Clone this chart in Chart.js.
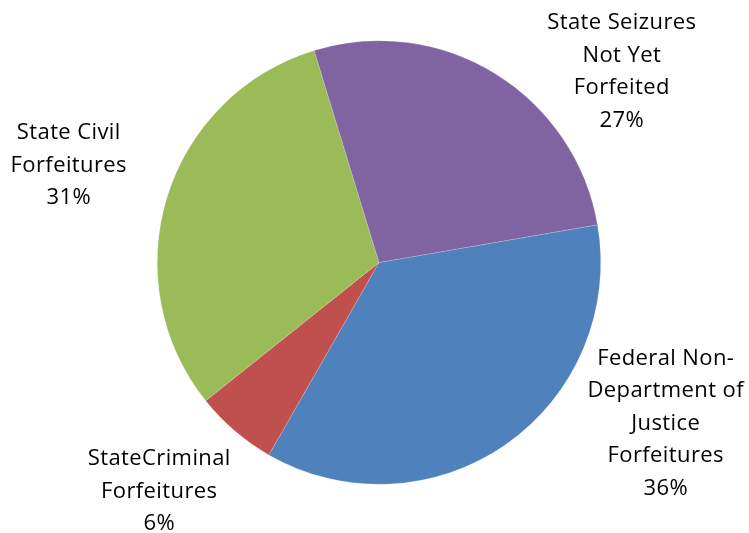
<!DOCTYPE html>
<html>
<head>
<meta charset="utf-8">
<script src="https://cdn.jsdelivr.net/npm/chart.js@4.4.0/dist/chart.umd.min.js"></script>
<style>
  html, body { margin: 0; padding: 0; background: #fff; }
  #wrap { width: 749px; height: 533px; }
</style>
</head>
<body>
<div id="wrap"><canvas id="graficoForfeitures"></canvas></div>
<script>
const categorias = [
  'Federal Non-Department of Justice Forfeitures',
  'StateCriminal Forfeitures',
  'State Civil Forfeitures',
  'State Seizures Not Yet Forfeited'
];
const percentuais = [36, 6, 31, 27];
const rotulos = [
  ['Federal Non-', 'Department of', 'Justice', 'Forfeitures', '36%'],
  ['StateCriminal', 'Forfeitures', '6%'],
  ['State Civil', 'Forfeitures', '31%'],
  ['State Seizures', 'Not Yet', 'Forfeited', '27%']
];
const cores = ['#4F81BD', '#C0504D', '#9BBB59', '#8064A2'];

// onde fica a primeira linha de cada rótulo, em raios a partir do centro
const ancoras = [[1.293, 0.462], [-0.991, 0.915], [-1.399, -0.556], [1.095, -1.052]];

const rotulosExternos = {
  id: 'rotulosExternos',
  afterDatasetsDraw(chart) {
    const ctx = chart.ctx;
    const meta = chart.getDatasetMeta(0);
    ctx.save();
    ctx.font = '22px "Open Sans"';
    ctx.letterSpacing = '0.4px';
    ctx.fillStyle = '#000';
    ctx.textAlign = 'center';
    ctx.textBaseline = 'alphabetic';
    meta.data.forEach((arc, i) => {
      const r = arc.outerRadius;
      const x = arc.x + ancoras[i][0] * r;
      let y = arc.y + ancoras[i][1] * r;
      rotulos[i].forEach(linha => {
        ctx.fillText(linha, x, y);
        y += 32.5;
      });
    });
    ctx.restore();
  }
};

new Chart(document.getElementById('graficoForfeitures'), {
  type: 'pie',
  data: {
    labels: categorias,
    datasets: [{
      data: percentuais,
      backgroundColor: cores,
      borderColor: 'rgba(255,255,255,0.35)',
      borderWidth: 0.5
    }]
  },
  options: {
    responsive: true,
    maintainAspectRatio: false,
    animation: false,
    rotation: 80.2,
    layout: { padding: { left: 157, right: 148, top: 40, bottom: 48 } },
    plugins: {
      legend: { display: false },
      tooltip: { enabled: false }
    }
  },
  plugins: [rotulosExternos]
});
</script>
</body>
</html>
